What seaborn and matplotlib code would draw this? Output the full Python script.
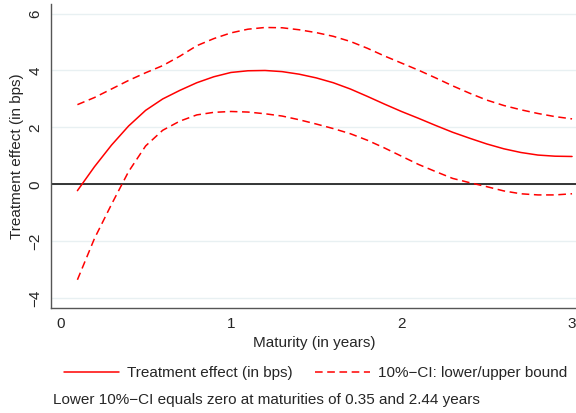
import numpy as np
import pandas as pd
import matplotlib
matplotlib.use("Agg")
import matplotlib.pyplot as plt
import seaborn as sns
from matplotlib.lines import Line2D

# ── Data ──────────────────────────────────────────────────────────────────────
maturity = [0.1, 0.2, 0.3, 0.4, 0.5, 0.6, 0.7, 0.8, 0.9, 1.0,
            1.1, 1.2, 1.3, 1.4, 1.5, 1.6, 1.7, 1.8, 1.9, 2.0,
            2.1, 2.2, 2.3, 2.4, 2.5, 2.6, 2.7, 2.8, 2.9, 3.0]
effect = [-0.22, 0.62, 1.38, 2.05, 2.60, 3.00, 3.30, 3.57, 3.78, 3.93,
          3.99, 4.00, 3.96, 3.87, 3.74, 3.57, 3.35, 3.09, 2.82, 2.56,
          2.32, 2.07, 1.83, 1.62, 1.42, 1.25, 1.12, 1.03, 0.99, 0.98]
ci_upper = [2.80, 3.05, 3.35, 3.65, 3.92, 4.17, 4.50, 4.87, 5.12, 5.32,
            5.45, 5.51, 5.50, 5.43, 5.33, 5.20, 5.02, 4.78, 4.51, 4.26,
            4.01, 3.74, 3.46, 3.20, 2.96, 2.77, 2.62, 2.49, 2.38, 2.30]
ci_lower = [-3.35, -1.90, -0.70, 0.45, 1.35, 1.90, 2.22, 2.44, 2.53, 2.56,
            2.54, 2.48, 2.40, 2.27, 2.12, 1.96, 1.78, 1.55, 1.28, 0.99,
            0.70, 0.45, 0.21, 0.06, -0.08, -0.23, -0.33, -0.37, -0.37, -0.33]
x_ticks = [0, 1, 2, 3]
y_ticks = [-4, -2, 0, 2, 4, 6]

df = pd.DataFrame({"maturity": maturity, "effect": effect,
                   "upper": ci_upper, "lower": ci_lower})

# ── Style ─────────────────────────────────────────────────────────────────────
sns.set_style("white")
plt.rcParams["font.family"] = ["Liberation Sans", "DejaVu Sans"]
plt.rcParams["font.size"] = 11

red = "#ff0000"
grid_col = "#e8f0f2"
axis_col = "#555555"

fig = plt.figure(figsize=(5.76, 4.13), dpi=100)
ax = fig.add_axes([0.0885, 0.255, 0.915, 0.735])

for y in y_ticks:
    ax.axhline(y, color=grid_col, lw=1.0, zorder=0)
ax.axhline(0, color="black", lw=1.1, zorder=1)

sns.lineplot(data=df, x="maturity", y="effect", ax=ax, color=red, lw=1.1)
sns.lineplot(data=df, x="maturity", y="upper", ax=ax, color=red, lw=1.1
             ).lines[-1].set_dashes((5, 3))
sns.lineplot(data=df, x="maturity", y="lower", ax=ax, color=red, lw=1.1
             ).lines[-1].set_dashes((5, 3))

ax.set_xlim(-0.055, 3.035)
ax.set_ylim(-4.33, 6.33)
ax.set_xticks(x_ticks)
ax.set_yticks(y_ticks)
ax.set_xticklabels([str(t) for t in x_ticks])
ax.set_yticklabels(["\u22124", "\u22122", "0", "2", "4", "6"])
plt.setp(ax.get_yticklabels(), rotation=90, va="center")

ax.set_xlabel("Maturity (in years)", labelpad=3)
ax.set_ylabel("Treatment effect (in bps)", labelpad=3)

sns.despine(ax=ax, top=True, right=True)
for side in ("left", "bottom"):
    ax.spines[side].set_color(axis_col)
    ax.spines[side].set_linewidth(1.0)
ax.tick_params(axis="both", direction="out", length=4, width=0.9,
               color=axis_col, labelsize=11, pad=3)
ax.tick_params(axis="y", pad=2)

# ── Legend and note ───────────────────────────────────────────────────────────
handles = [Line2D([], [], color=red, lw=1.1),
           Line2D([], [], color=red, lw=1.1, dashes=(5, 3))]
labels = ["Treatment effect (in bps)", "10%\u2212CI: lower/upper bound"]
fig.legend(handles, labels, loc="center", bbox_to_anchor=(0.548, 0.097),
           ncol=2, frameon=False, handlelength=3.6, handletextpad=0.5,
           columnspacing=1.5, fontsize=11)

fig.text(0.092, 0.031,
         "Lower 10%\u2212CI equals zero at maturities of 0.35 and 2.44 years",
         fontsize=11, va="center", ha="left")

fig.savefig("out.png", dpi=100)
